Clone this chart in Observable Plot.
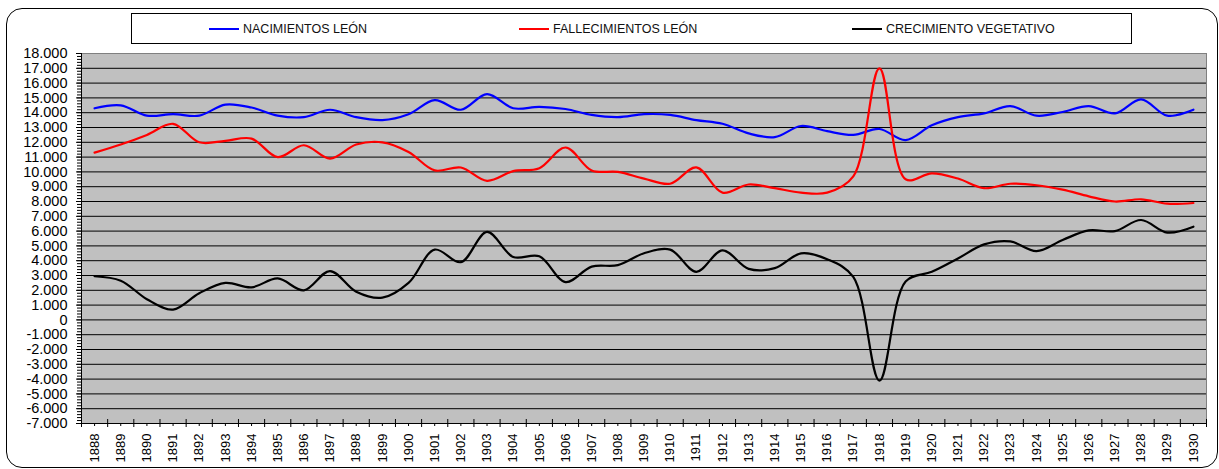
<!DOCTYPE html>
<html>
<head>
<meta charset="utf-8">
<script src="https://cdn.jsdelivr.net/npm/d3@7"></script>
<script src="https://cdn.jsdelivr.net/npm/@observablehq/plot@0.6"></script>
<style>
  html, body { margin: 0; padding: 0; background: #fff; }
  #wrap { position: relative; width: 1219px; height: 469px; overflow: hidden; font-family: "Liberation Sans", Arial, sans-serif; }
  #chart { position: absolute; left: 0; top: 0; }
  #outer { position: absolute; left: 6px; top: 8px; width: 1210px; height: 458px; border: 1.5px solid #000; border-radius: 16px; pointer-events: none; }
  #legend { position: absolute; left: 131px; top: 13px; width: 999px; height: 29px; border: 1px solid #000; background: #fff; }
  .item { position: absolute; top: 0; height: 29px; display: flex; align-items: center; font-size: 12.5px; color: #111; white-space: nowrap; }
  .sw { display: inline-block; width: 30px; height: 0; border-top: 2.5px solid; margin-right: 4px; }
</style>
</head>
<body>
<div id="wrap">
  <div id="chart"></div>
  <div id="legend"></div>
  <div id="outer"></div>
</div>
<script>
const years = [1888,1889,1890,1891,1892,1893,1894,1895,1896,1897,1898,1899,1900,
  1901,1902,1903,1904,1905,1906,1907,1908,1909,1910,1911,1912,1913,1914,1915,
  1916,1917,1918,1919,1920,1921,1922,1923,1924,1925,1926,1927,1928,1929,1930];

const nacimientos = [14300,14500,13800,13900,13800,14550,14350,13800,13700,14200,13700,13500,13900,
  14850,14200,15250,14300,14400,14250,13850,13700,13900,13850,13500,13250,12600,12350,13100,
  12750,12500,12900,12150,13150,13700,13950,14450,13800,14050,14450,13950,14900,13800,14200];

const fallecimientos = [11300,11850,12500,13250,12000,12100,12250,11000,11800,10900,11850,12000,11350,
  10100,10300,9400,10050,10250,11650,10100,10000,9550,9200,10300,8600,9150,8900,8600,
  8600,9700,17000,9500,9900,9550,8900,9200,9100,8800,8350,8000,8150,7850,7900];

const crecimiento = [2950,2650,1400,700,1800,2500,2200,2800,2000,3300,1900,1500,2500,
  4750,3900,5950,4250,4300,2550,3600,3700,4500,4750,3250,4700,3450,3500,4500,
  4100,2900,-4100,2600,3250,4150,5100,5300,4650,5400,6050,6000,6750,5900,6300];

const seriesNames = ["NACIMIENTOS LEÓN", "FALLECIMIENTOS LEÓN", "CRECIMIENTO VEGETATIVO"];
const seriesColors = ["#0000FF", "#FF0000", "#000000"];

const yMin = -7000, yMax = 18000, yStep = 1000, yMinorStep = 200;
const yTicks = d3.range(yMin, yMax + 1, yStep);
const yMinorTicks = d3.range(yMin, yMax + 1, yMinorStep);
const yGrid = d3.range(yMin + yStep, yMax, yStep);
const xBounds = d3.range(years[0] - 0.5, years[years.length - 1] + 1, 1);

const rows = [];
[nacimientos, fallecimientos, crecimiento].forEach((vals, i) => {
  vals.forEach((v, j) => rows.push({year: years[j], value: v, serie: seriesNames[i]}));
});

const W = 1219, H = 469;
const mL = 81, mR = 13, mT = 53, mB = 46;
const innerW = W - mL - mR, innerH = H - mT - mB;

const fmt = d => d === 0 ? "0" : (d < 0 ? "-" : "") + d3.format(",")(Math.abs(d)).replace(/,/g, ".");

const plot = Plot.plot({
  width: W, height: H,
  marginLeft: mL, marginRight: mR, marginTop: mT, marginBottom: mB,
  style: {background: "transparent", fontFamily: "'Liberation Sans', Arial, sans-serif", color: "#000"},
  x: {domain: [xBounds[0], xBounds[xBounds.length - 1]], label: null},
  y: {domain: [yMin, yMax], label: null},
  color: {domain: seriesNames, range: seriesColors},
  marks: [
    Plot.frame({fill: "#C0C0C0", stroke: "#808080"}),
    Plot.gridY(yGrid, {stroke: "#000", strokeOpacity: 1, strokeWidth: 1}),
    Plot.ruleY([yMin], {stroke: "#000", strokeWidth: 1}),
    Plot.ruleX([xBounds[0]], {stroke: "#000", strokeWidth: 1}),
    Plot.tickY(yMinorTicks, {y: d => d, stroke: "#000", insetLeft: -4, insetRight: innerW}),
    Plot.tickY(yTicks, {y: d => d, stroke: "#000", insetLeft: -5, insetRight: innerW}),
    Plot.tickX(xBounds, {x: d => d, stroke: "#000", insetTop: innerH - 4, insetBottom: -4}),
    Plot.tickX(years, {x: d => d, stroke: "#000", insetTop: innerH, insetBottom: -3}),
    Plot.axisY(yTicks, {tickSize: 0, tickPadding: 14, tickFormat: fmt, fontSize: 14.5, fill: "#000", label: null}),
    Plot.axisX(years, {tickSize: 0, tickPadding: 10, tickRotate: -90, tickFormat: d => String(d), fontSize: 13, fill: "#000", label: null}),
    Plot.line(rows, {x: "year", y: "value", z: "serie", stroke: "serie", strokeWidth: 2.2, curve: "catmull-rom"})
  ]
});
document.getElementById("chart").appendChild(plot);

const legend = document.getElementById("legend");
const legendPos = [77, 387, 720];
seriesNames.forEach((name, i) => {
  const it = document.createElement("div");
  it.className = "item";
  it.style.left = legendPos[i] + "px";
  const sw = document.createElement("span");
  sw.className = "sw";
  sw.style.borderTopColor = seriesColors[i];
  it.appendChild(sw);
  const t = document.createElement("span");
  t.textContent = name;
  it.appendChild(t);
  legend.appendChild(it);
});
</script>
</body>
</html>
